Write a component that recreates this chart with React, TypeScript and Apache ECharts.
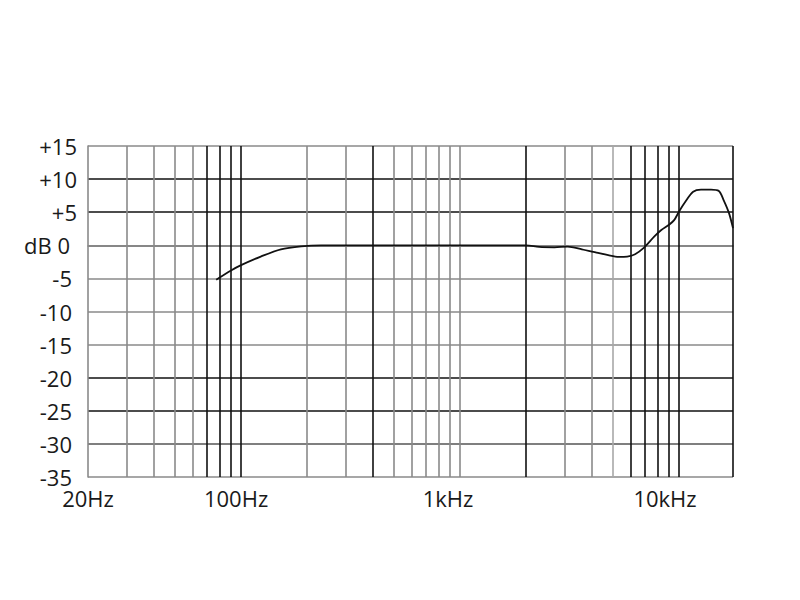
import React, { useEffect, useRef } from "react";
import * as echarts from "echarts";

// Frequency response curve (Hz, dB)
const curveFreqs = [77, 90, 100, 123, 152, 188, 232, 500, 1000, 2000, 2300, 2700, 3100, 3600, 4200, 4750, 5300, 5800, 6300, 6900, 7700, 8300, 9000, 9500, 10000, 10800, 11600, 12600, 14000, 15200, 16000, 16900, 17640];
const curveDb = [-5.2, -3.8, -3.0, -1.7, -0.6, -0.15, 0, 0, 0, 0, -0.25, -0.3, -0.2, -0.6, -1.1, -1.5, -1.75, -1.7, -1.35, -0.4, 1.3, 2.3, 3.1, 3.8, 5.1, 6.8, 8.1, 8.4, 8.4, 8.2, 6.8, 4.9, 2.6];

// Vertical grid lines (Hz) and their shade
const gridFreqs = [30, 40, 50, 60, 70, 80, 90, 100, 200, 300, 400, 500, 600, 700, 800, 900, 1000, 2000, 3000, 4000, 5000, 6000, 7000, 8000, 9000, 10000, 17640];
const gridShades = ["g", "g", "g", "g", "k", "k", "k", "k", "g", "g", "k", "g", "g", "g", "g", "g", "g", "k", "g", "g", "l", "k", "k", "k", "k", "k", "k"];

// Horizontal grid shades, from -35 up to +15
const yShades = ["g", "d", "k", "k", "g", "g", "g", "d", "k", "k", "g"];

// Axis labels
const xLabelFreqs = [20, 100, 1000, 10000];
const xLabelTexts = ["20Hz", "100Hz", "1kHz", "10kHz"];

const FREQ_MIN = 20;
const FREQ_MAX = 17640;

const shadeColor: Record<string, string> = {
  k: "#111111",
  d: "#555555",
  g: "#8a8a8a",
  l: "#a8a8a8",
};

export default function App() {
  const ref = useRef<HTMLDivElement>(null);

  useEffect(() => {
    if (!ref.current) return;
    const chart = echarts.init(ref.current, undefined, { renderer: "svg" });
    const font = "Open Sans";
    const fs = 22;
    const txt = "#1a1a1a";

    const xShift: Record<number, number> = { 20: 0, 100: 10, 1000: 24, 10000: 28 };

    chart.setOption({
      animation: false,
      grid: { left: 88, right: 67, top: 146, bottom: 123, containLabel: false },
      xAxis: {
        type: "log",
        logBase: 10,
        min: FREQ_MIN,
        max: FREQ_MAX,
        axisLine: { show: true, lineStyle: { color: shadeColor.g, width: 1.6 } },
        axisTick: { show: false },
        splitLine: { show: false },
        minorTick: { show: false },
        axisLabel: {
          show: true,
          margin: 10,
          showMaxLabel: false,
          formatter: (v: number) => {
            const r = Math.round(v);
            const i = xLabelFreqs.indexOf(r);
            if (i < 0) return "";
            return `{s${xShift[r]}|${xLabelTexts[i]}}`;
          },
          rich: Object.fromEntries(
            Object.values(xShift).map((s) => [
              `s${s}`,
              { fontFamily: font, fontSize: fs, color: txt, padding: [0, s, 0, 0] },
            ])
          ),
        },
      },
      yAxis: {
        type: "value",
        min: -35,
        max: 15,
        interval: 5,
        axisLine: { show: true, lineStyle: { color: shadeColor.g, width: 1.6 } },
        axisTick: { show: false },
        splitLine: {
          show: true,
          lineStyle: { color: yShades.map((s) => shadeColor[s]), width: 1.6 },
        },
        axisLabel: {
          margin: 11,
          formatter: (v: number) => {
            if (v > 0) return `{p|+${v}}`;
            if (v === 0) return `{z|dB 0}`;
            return `{m|${v}}`;
          },
          rich: {
            p: { fontFamily: font, fontSize: fs, color: txt },
            m: { fontFamily: font, fontSize: fs, color: txt, padding: [0, 5, 0, 0] },
            z: { fontFamily: font, fontSize: fs, color: txt, padding: [0, 7, 0, 0] },
          },
        },
      },
      series: [
        {
          type: "line",
          z: 3,
          data: curveFreqs.map((f, i) => [f, curveDb[i]]),
          showSymbol: false,
          smooth: 0.3,
          lineStyle: { color: "#111111", width: 1.8 },
          markLine: {
            z: 1,
            silent: true,
            symbol: ["none", "none"],
            label: { show: false },
            animation: false,
            data: gridFreqs.map((f, i) => ({
              xAxis: f,
              lineStyle: { color: shadeColor[gridShades[i]], width: 1.6, type: "solid" },
            })),
          },
        },
      ],
    });
    return () => chart.dispose();
  }, []);

  return (
    <div
      ref={ref}
      style={{ position: "fixed", left: 0, top: 0, width: 800, height: 600, background: "#fff" }}
    />
  );
}
